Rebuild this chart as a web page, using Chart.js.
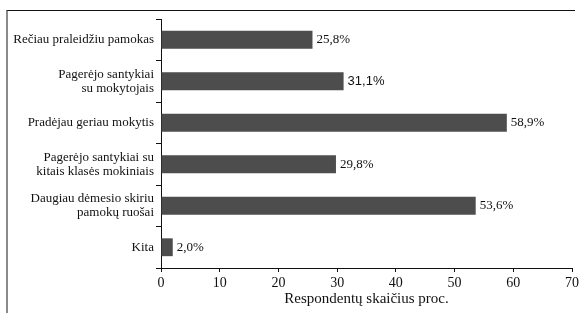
<!DOCTYPE html>
<html>
<head>
<meta charset="utf-8">
<script src="https://cdn.jsdelivr.net/npm/chart.js@4"></script>
<style>
html,body{margin:0;padding:0;background:#fff;}
#wrap{position:relative;width:582px;height:313px;}
#frame{position:absolute;left:6px;top:10px;width:567px;height:310px;border-left:2px solid #8a8a8a;border-top:1px solid #111;}
canvas{position:absolute;left:0;top:0;}
</style>
</head>
<body>
<div id="wrap">
<div id="frame"></div>
<canvas id="c" width="582" height="313"></canvas>
</div>
<script>
const categories = [
  "Rečiau praleidžiu pamokas",
  ["Pagerėjo santykiai", "su mokytojais"],
  "Pradėjau geriau mokytis",
  ["Pagerėjo santykiai su", "kitais klasės mokiniais"],
  ["Daugiau dėmesio skiriu", "pamokų ruošai"],
  "Kita"
];
const values = [25.8, 31.1, 58.9, 29.8, 53.6, 2.0];
const valueLabels = ["25,8%", "31,1%", "58,9%", "29,8%", "53,6%", "2,0%"];
const xTicks = [0, 10, 20, 30, 40, 50, 60, 70];
const xTitle = "Respondentų skaičius proc.";

const SERIF = '"Liberation Serif", "DejaVu Serif", serif';

const labelPlugin = {
  id: 'valueLabels',
  afterDatasetsDraw(chart) {
    const ctx = chart.ctx;
    const meta = chart.getDatasetMeta(0);
    ctx.save();
    ctx.fillStyle = '#111';
    ctx.textBaseline = 'middle';
    ctx.textAlign = 'left';
    meta.data.forEach((bar, i) => {
      ctx.font = (i === 1) ? '13px "Liberation Sans", Arial, sans-serif' : '13px ' + SERIF;
      ctx.fillText(valueLabels[i], bar.x + 4, bar.y);
    });
    ctx.restore();
  }
};

new Chart(document.getElementById('c'), {
  type: 'bar',
  data: {
    labels: categories,
    datasets: [{
      data: values,
      backgroundColor: '#4d4d4d',
      borderWidth: 0,
      barPercentage: 0.43,
      categoryPercentage: 1.0
    }]
  },
  options: {
    indexAxis: 'y',
    responsive: false,
    animation: false,
    devicePixelRatio: 1,
    layout: { padding: { left: 0, right: 8, top: 19, bottom: 0 } },
    plugins: { legend: { display: false }, tooltip: { enabled: false } },
    scales: {
      y: {
        afterFit(s) { s.width = 161; },
        grid: { offset: true, drawOnChartArea: false, tickLength: 5, color: '#111', lineWidth: 1 },
        border: { color: '#111', width: 1 },
        ticks: { color: '#111', font: { family: SERIF, size: 13, lineHeight: 1.08 }, padding: 2, autoSkip: false }
      },
      x: {
        min: 0, max: 70,
        afterFit(s) { s.height = 45; },
        afterBuildTicks(s) { s.ticks = xTicks.map(v => ({ value: v })); },
        grid: { drawOnChartArea: false, tickLength: 4, color: '#111', lineWidth: 1 },
        border: { color: '#111', width: 1 },
        ticks: { color: '#111', font: { family: SERIF, size: 14 }, padding: 3, maxRotation: 0 },
        title: { display: true, text: xTitle, color: '#111', font: { family: SERIF, size: 15 }, padding: { top: 0, bottom: 5 } }
      }
    }
  },
  plugins: [labelPlugin]
});
</script>
</body>
</html>
